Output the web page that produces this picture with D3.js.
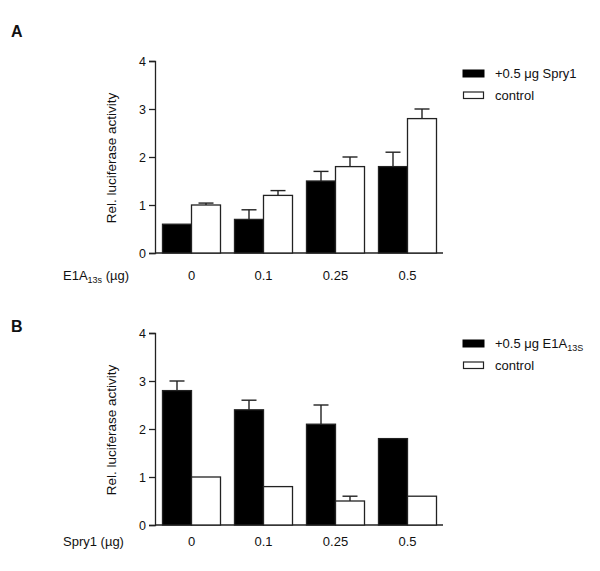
<!DOCTYPE html>
<html>
<head>
<meta charset="utf-8">
<script src="https://cdn.jsdelivr.net/npm/d3@7"></script>
<style>
  html, body { margin: 0; padding: 0; background: #fff; }
  svg { display: block; }
  text { font-family: Arial, "Liberation Sans", sans-serif; fill: #111; }
</style>
</head>
<body>
<svg id="chart" width="600" height="571"></svg>
<script>
// ---- Data ----
const doses = ["0", "0.1", "0.25", "0.5"];
const yTicks = [0, 1, 2, 3, 4];

// Panel A: E1A13s titration
const aSpry1 = [0.6, 0.7, 1.5, 1.8];
const aSpry1Err = [0, 0.2, 0.2, 0.3];
const aControl = [1.0, 1.2, 1.8, 2.8];
const aControlErr = [0.04, 0.1, 0.2, 0.2];

// Panel B: Spry1 titration
const bE1A = [2.8, 2.4, 2.1, 1.8];
const bE1AErr = [0.2, 0.2, 0.4, 0];
const bControl = [1.0, 0.8, 0.5, 0.6];
const bControlErr = [0, 0, 0.1, 0];

const seriesKeys = ["treated", "control"];

const svg = d3.select("#chart");

function panel(cfg) {
  const g = svg.append("g");
  const x = d3.scaleBand().domain(doses).range([155, 443]).padding(0);
  const x1 = d3.scaleBand().domain(seriesKeys).range([7.5, 65.5]).padding(0);
  const y = d3.scaleLinear().domain([0, 4]).range([cfg.y0, cfg.y0 - 192]);

  // panel letter
  g.append("text").attr("x", 11).attr("y", cfg.letterY)
    .style("font-size", "16px").style("font-weight", "bold").text(cfg.letter);

  // y axis
  const yAxis = g.append("g").attr("transform", "translate(155,0)")
    .call(d3.axisLeft(y).tickValues(yTicks).tickFormat(d3.format("d")).tickSize(6).tickPadding(3));
  yAxis.select(".domain").attr("stroke", "#222").attr("stroke-width", 1.3);
  yAxis.selectAll(".tick line").attr("stroke", "#222").attr("stroke-width", 1.3);
  yAxis.selectAll(".tick text").style("font-size", "12.5px").style("font-family", "Arial, 'Liberation Sans', sans-serif").attr("fill", "#111");

  // x axis line
  g.append("line").attr("x1", 155).attr("x2", 443).attr("y1", y(0)).attr("y2", y(0))
    .attr("stroke", "#222").attr("stroke-width", 1.3);

  // x tick labels
  g.selectAll(".xt").data(doses).enter().append("text")
    .attr("x", d => x(d) + 36.5).attr("y", cfg.xLabY)
    .attr("text-anchor", "middle").style("font-size", "13px").text(d => d);

  // x title
  cfg.xTitle(g.append("text").attr("x", cfg.xTitleX).attr("y", cfg.xLabY).style("font-size", "13px"));

  // y title
  g.append("text").attr("transform", `translate(116,${y(0) - 95}) rotate(-90)`)
    .attr("text-anchor", "middle").style("font-size", "13.5px").text("Rel. luciferase activity");

  const rows = doses.map((d, i) => ({
    dose: d,
    vals: [
      { key: "treated", v: cfg.s1[i], e: cfg.s1e[i] },
      { key: "control", v: cfg.s2[i], e: cfg.s2e[i] }
    ]
  }));

  const grp = g.selectAll(".grp").data(rows).enter().append("g")
    .attr("transform", d => `translate(${x(d.dose)},0)`);

  // error bars (upper only) drawn behind bars
  const eb = grp.selectAll(".eb").data(d => d.vals.filter(v => v.e > 0)).enter().append("g");
  eb.append("line")
    .attr("x1", d => x1(d.key) + x1.bandwidth() / 2).attr("x2", d => x1(d.key) + x1.bandwidth() / 2)
    .attr("y1", d => y(d.v)).attr("y2", d => y(d.v + d.e))
    .attr("stroke", "#222").attr("stroke-width", 1.4);
  eb.append("line")
    .attr("x1", d => x1(d.key) + x1.bandwidth() / 2 - 7.5).attr("x2", d => x1(d.key) + x1.bandwidth() / 2 + 7.5)
    .attr("y1", d => y(d.v + d.e)).attr("y2", d => y(d.v + d.e))
    .attr("stroke", "#222").attr("stroke-width", 1.4);

  grp.selectAll("rect").data(d => d.vals).enter().append("rect")
    .attr("x", d => x1(d.key)).attr("width", x1.bandwidth())
    .attr("y", d => y(d.v)).attr("height", d => y(0) - y(d.v))
    .attr("fill", d => d.key === "treated" ? "#000" : "#fff")
    .attr("stroke", "#222").attr("stroke-width", 1.3);

  // legend
  const lg = g.append("g");
  lg.append("rect").attr("x", 463).attr("y", cfg.legY).attr("width", 21).attr("height", 7)
    .attr("fill", "#000").attr("stroke", "#000").attr("stroke-width", 1);
  cfg.legText(lg.append("text").attr("x", 495).attr("y", cfg.legY + 8).style("font-size", "13px"));
  lg.append("rect").attr("x", 463.5).attr("y", cfg.legY + 22).attr("width", 20).attr("height", 6.5)
    .attr("fill", "#fff").attr("stroke", "#222").attr("stroke-width", 1.2);
  lg.append("text").attr("x", 495).attr("y", cfg.legY + 30).style("font-size", "13px").text("control");
}

panel({
  letter: "A", letterY: 37, y0: 253, xLabY: 280, xTitleX: 63,
  s1: aSpry1, s1e: aSpry1Err, s2: aControl, s2e: aControlErr, legY: 70,
  xTitle: t => {
    t.append("tspan").text("E1A");
    t.append("tspan").attr("dy", 3).style("font-size", "9px").text("13s");
    t.append("tspan").attr("dy", -3).text(" (µg)");
  },
  legText: t => { t.text("+0.5 μg Spry1"); }
});

panel({
  letter: "B", letterY: 332, y0: 525, xLabY: 546, xTitleX: 63,
  s1: bE1A, s1e: bE1AErr, s2: bControl, s2e: bControlErr, legY: 340,
  xTitle: t => { t.text("Spry1 (µg)"); },
  legText: t => {
    t.append("tspan").text("+0.5 μg E1A");
    t.append("tspan").attr("dy", 3).style("font-size", "9px").text("13S");
  }
});
</script>
</body>
</html>
